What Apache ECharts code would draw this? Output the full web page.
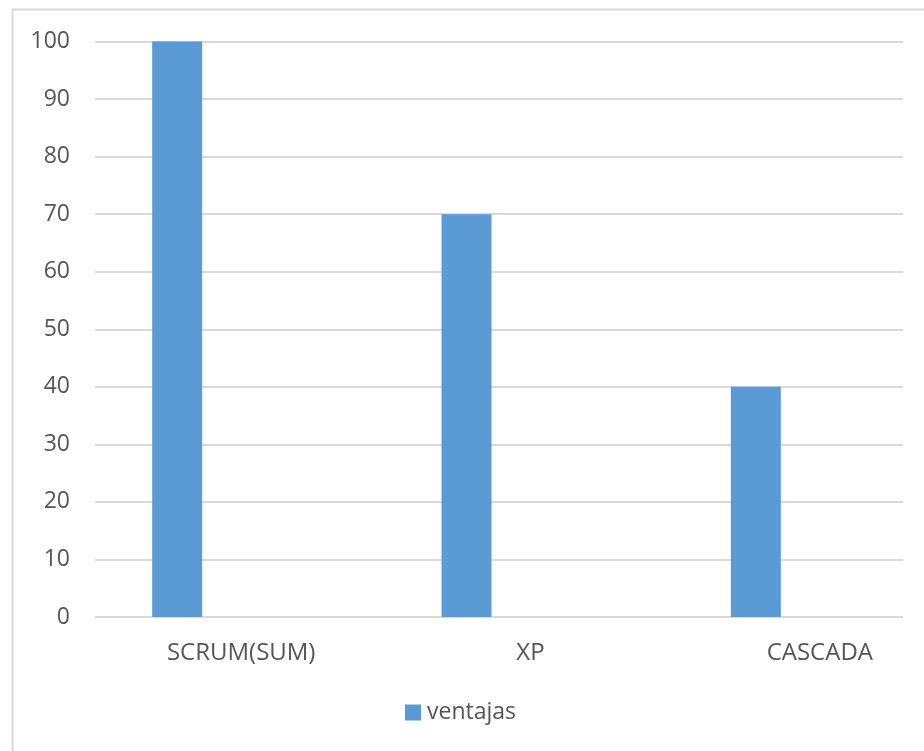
<!DOCTYPE html>
<html>
<head>
<meta charset="utf-8">
<style>html,body{margin:0;padding:0;background:#fff}#c{width:924px;height:751px}</style>
<script src="https://cdn.jsdelivr.net/npm/echarts@6/dist/echarts.min.js"></script>
</head>
<body>
<div id="c"></div>
<script>
const categories = ['SCRUM(SUM)', 'XP', 'CASCADA'];
const ventajas = [100, 70, 40];
const emptySeries = ['-', '-', '-'];
const yTicks = { min: 0, max: 100, interval: 10 };

const chart = echarts.init(document.getElementById('c'));
const font = '"Open Sans", sans-serif';
const txt = '#555555';
chart.setOption({
  animation: false,
  backgroundColor: '#fff',
  graphic: [{
    type: 'rect', left: 10, top: 7, shape: { width: 1000, height: 1000 },
    style: { fill: 'none', stroke: '#d9d9d9', lineWidth: 2 }, silent: true, z: -1
  }],
  grid: [
    { left: 95, right: 21, top: 41.5, bottom: 134, outerBoundsMode: 'none' },
    { left: 96.5, width: 868, top: 41.5, bottom: 134, outerBoundsMode: 'none', containLabel: false }
  ],
  legend: {
    data: ['ventajas'], left: 405, top: 701, padding: 0,
    itemWidth: 16, itemHeight: 16, itemGap: 10,
    icon: 'rect',
    textStyle: { color: txt, fontFamily: font, fontSize: 23, padding: [0, 0, 0, 1] }
  },
  xAxis: [
    { type: 'category', gridIndex: 0, data: categories, show: false },
    {
      type: 'category', gridIndex: 1, data: categories,
      axisLine: { show: false }, axisTick: { show: false },
      axisLabel: { color: txt, fontFamily: font, fontSize: 24, margin: 24 }
    }
  ],
  yAxis: [
    {
      type: 'value', gridIndex: 0, min: yTicks.min, max: yTicks.max, interval: yTicks.interval,
      axisLine: { show: false }, axisTick: { show: false },
      axisLabel: { color: txt, fontFamily: font, fontSize: 23, margin: 25 },
      splitLine: { lineStyle: { color: '#d9d9d9', width: 2 } }
    },
    {
      type: 'value', gridIndex: 1, min: yTicks.min, max: yTicks.max, interval: yTicks.interval,
      show: false, splitLine: { show: false }
    }
  ],
  series: [
    {
      name: 'ventajas', type: 'bar', xAxisIndex: 1, yAxisIndex: 1,
      data: ventajas, barWidth: 50, barGap: '156%',
      itemStyle: { color: '#5b9bd5' }
    },
    {
      name: 'serie2', type: 'bar', xAxisIndex: 1, yAxisIndex: 1,
      data: emptySeries, barWidth: 50, barGap: '156%',
      itemStyle: { color: '#ed7d31' }
    }
  ]
});
</script>
</body>
</html>
